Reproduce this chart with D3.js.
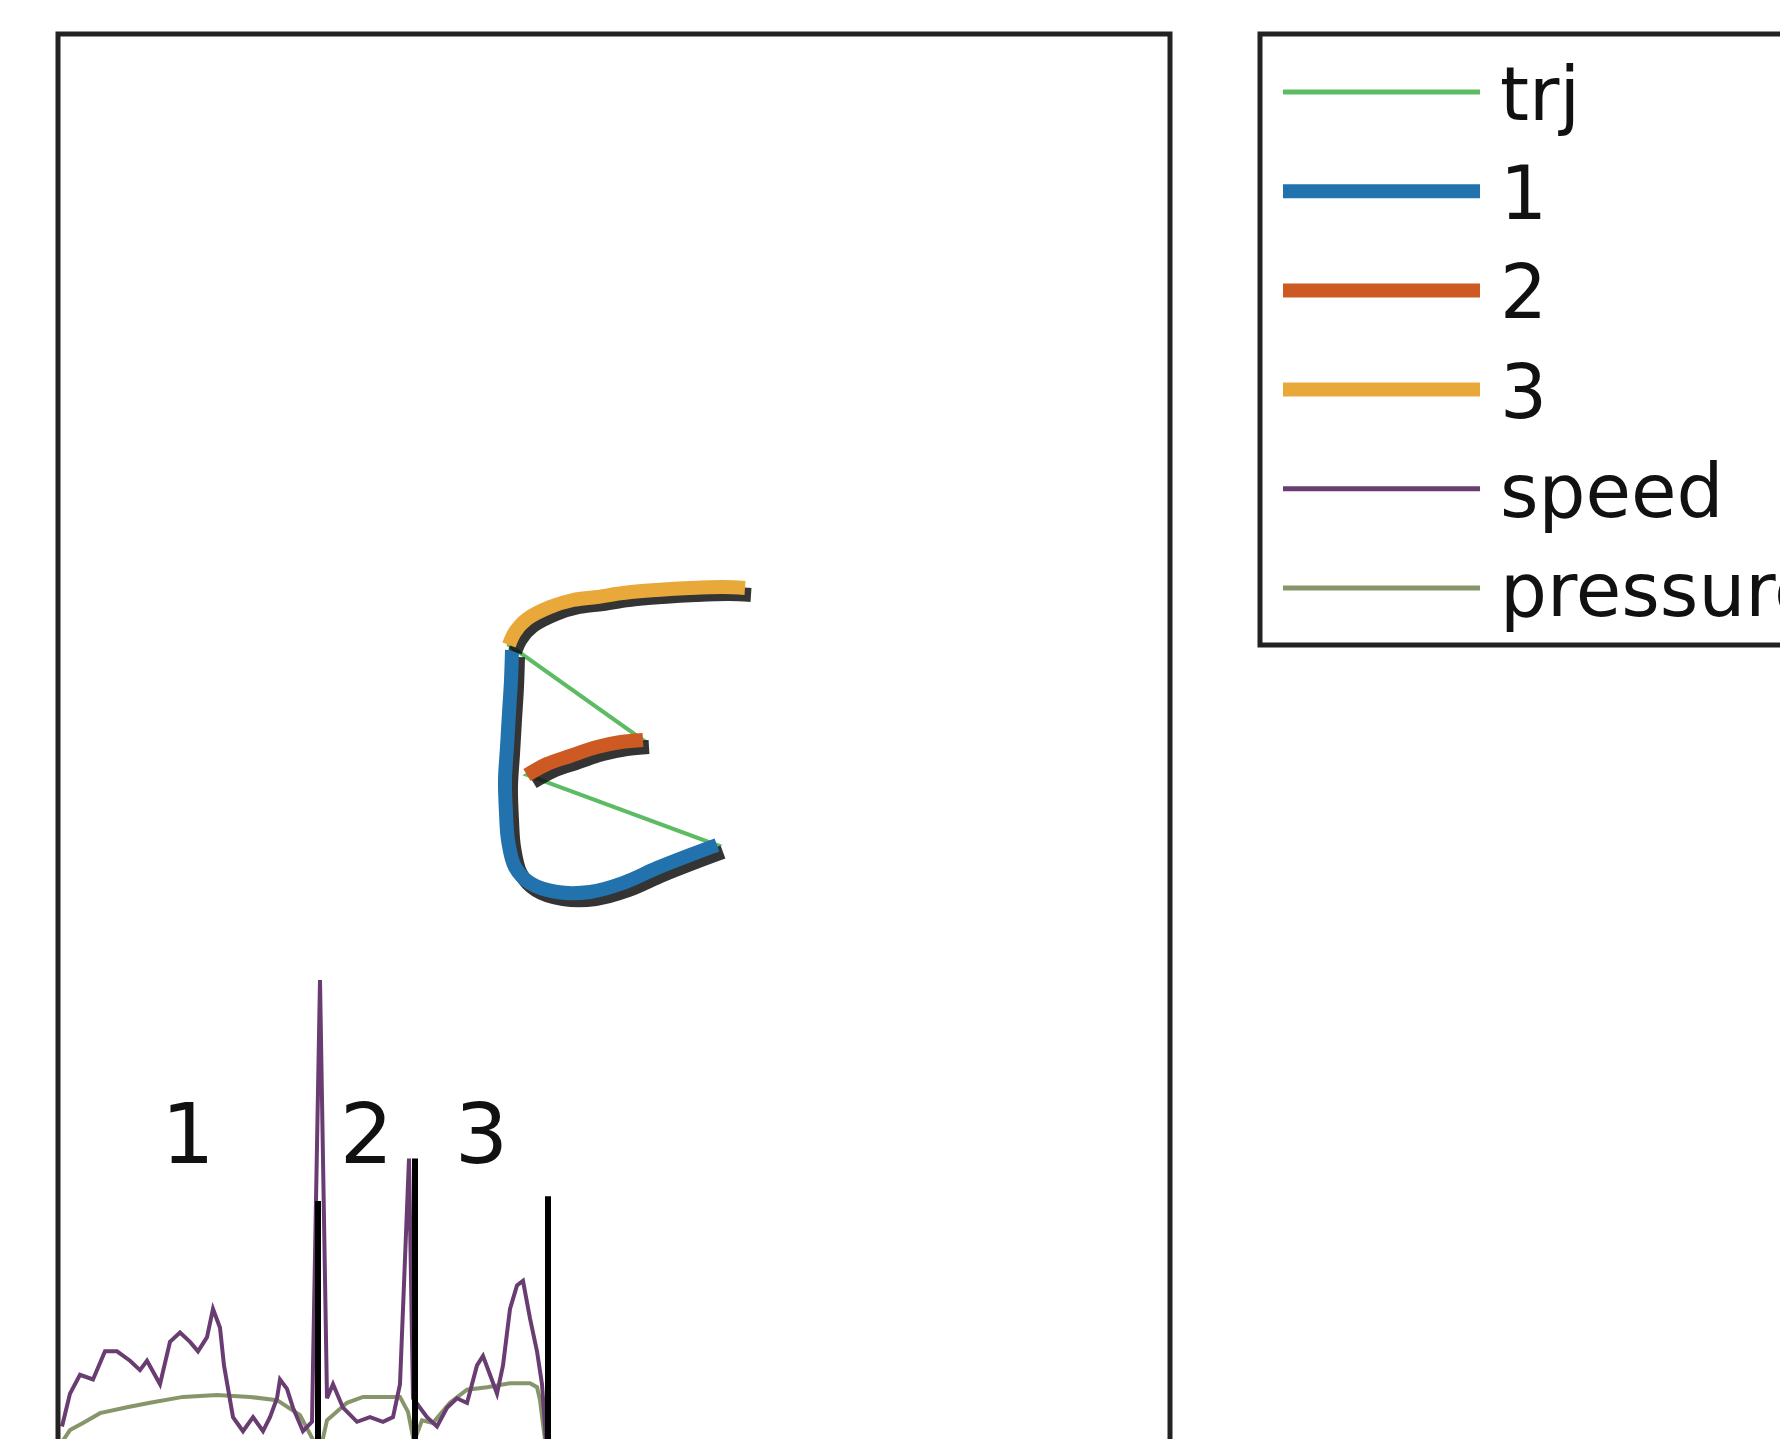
<!DOCTYPE html>
<html>
<head>
<meta charset="utf-8">
<script src="https://cdn.jsdelivr.net/npm/d3@7"></script>
<style>
  body { margin: 0; background: #fff; }
  svg { display: block; }
  text { font-family: "DejaVu Sans", sans-serif; fill: #111; }
</style>
</head>
<body>
<svg id="canvas" width="1780" height="1439"></svg>
<script>
// pen strokes of the letter, in tablet units (x right, y down)
var stroke1 = [[454,616],[453,646],[451,679],[449,713],[447,746],[448,779],[450,806],
  [457,833],[472,849],[499,858],[532,858],[565,849],[599,834],[632,821],[659,811]];
var stroke2 = [[469,741],[489,730],[512,722],[539,713],[563,708],[585,706]];
var stroke3 = [[451,611],[457,598],[469,585],[492,573],[515,566],[539,563],[565,559],
  [599,556],[632,554],[665,553],[687,554]];
var strokeNames = ['1', '2', '3'];
var strokeColors = ['#2272ad', '#cc5a22', '#e8a93a'];

// speed / pressure over time
var speedT = [4,12,22,35,47,59,72,82,89,102,112,122,132,140,149,155,162,166,175,185,195,205,
  212,219,222,229,235,245,254,262,269,275,285,299,312,325,335,342,351,355,369,379,389,399,
  409,419,425,432,439,445,452,459,465,472,479,484,488];
var speed = [.05,.12,.16,.15,.21,.21,.19,.17,.19,.14,.23,.25,.23,.21,.24,.30,.26,.18,.07,.04,
  .07,.04,.07,.11,.15,.13,.09,.04,.06,1.00,.11,.14,.09,.06,.07,.06,.07,.14,.62,.11,.07,.05,
  .09,.11,.10,.18,.20,.16,.12,.18,.30,.35,.36,.28,.21,.14,.02];
var pressT = [2,12,25,42,69,92,125,159,192,219,242,255,262,269,289,305,325,342,350,356,364,
  375,392,409,429,452,472,479,482,487];
var pressure = [0,.23,.34,.49,.58,.65,.74,.77,.74,.69,.46,.08,-.1,.38,.65,.74,.74,.74,.51,.05,
  .38,.34,.65,.85,.89,.95,.95,.89,.69,.08];
var strokeEnds = [260, 357, 490];
var strokeEndHeights = [0.53, 0.62, 0.54];

var legendLabels = ['trj', '1', '2', '3', 'speed', 'pressure'];

var trjColor = '#5dbb63', speedColor = '#6a3d72', pressColor = '#86966a';

var svg = d3.select('#canvas');

// main axes
var x = d3.scaleLinear().domain([0, 1112]).range([58, 1170]);
var y = d3.scaleLinear().domain([0, 1405]).range([34, 1439]);

var line = d3.line()
  .x(function (d) { return x(d[0]); })
  .y(function (d) { return y(d[1]); })
  .curve(d3.curveCatmullRom);

var trj = stroke1.concat(stroke2, stroke3);
var strokes = [stroke1, stroke2, stroke3];

svg.append('path')
  .attr('d', d3.line().x(function (d) { return x(d[0]); }).y(function (d) { return y(d[1]); })(trj))
  .attr('fill', 'none')
  .attr('stroke', trjColor)
  .attr('stroke-width', 4);

strokes.forEach(function (s, i) {
  // shadow
  svg.append('path')
    .attr('d', line(s))
    .attr('transform', 'translate(6,7)')
    .attr('fill', 'none')
    .attr('stroke', '#111')
    .attr('stroke-opacity', 0.85)
    .attr('stroke-width', 14)
    .attr('stroke-linecap', 'butt');
  svg.append('path')
    .attr('d', line(s))
    .attr('fill', 'none')
    .attr('stroke', strokeColors[i])
    .attr('stroke-width', 14)
    .attr('stroke-linecap', 'butt');
});

// inset: speed and pressure
var tx = d3.scaleLinear().domain([0, 490]).range([58, 548]);
var ys = d3.scaleLinear().domain([0, 1]).range([1450, 980]);
var yp = d3.scaleLinear().domain([0, 1]).range([1445, 1380]);

svg.append('path')
  .attr('d', d3.line().x(function (d, i) { return tx(pressT[i]); }).y(function (d) { return yp(d); })(pressure))
  .attr('fill', 'none')
  .attr('stroke', pressColor)
  .attr('stroke-width', 4);

svg.append('path')
  .attr('d', d3.line().x(function (d, i) { return tx(speedT[i]); }).y(function (d) { return ys(d); })(speed))
  .attr('fill', 'none')
  .attr('stroke', speedColor)
  .attr('stroke-width', 4);

svg.selectAll('.end')
  .data(strokeEnds)
  .enter().append('line')
  .attr('x1', function (d) { return tx(d); })
  .attr('x2', function (d) { return tx(d); })
  .attr('y1', ys(0))
  .attr('y2', function (d, i) { return ys(strokeEndHeights[i]); })
  .attr('stroke', '#000')
  .attr('stroke-width', 6);

svg.selectAll('.slabel')
  .data(strokeNames)
  .enter().append('text')
  .attr('x', function (d, i) { return tx(((i ? strokeEnds[i - 1] : 0) + strokeEnds[i]) / 2); })
  .attr('y', ys(0.61))
  .attr('text-anchor', 'middle')
  .style('font-size', '84px')
  .text(function (d) { return d; });

// frame
svg.append('rect')
  .attr('x', 58).attr('y', 34)
  .attr('width', 1112).attr('height', 1500)
  .attr('fill', 'none')
  .attr('stroke', '#222')
  .attr('stroke-width', 5);

// legend
var legend = svg.append('g');
legend.append('rect')
  .attr('x', 1260).attr('y', 34)
  .attr('width', 700).attr('height', 611)
  .attr('fill', 'none')
  .attr('stroke', '#222')
  .attr('stroke-width', 5);

var ly = d3.scalePoint().domain(legendLabels).range([92, 588]);
var legendColors = [trjColor].concat(strokeColors, [speedColor, pressColor]);
var legendWidths = [5, 14, 14, 14, 5, 5];

legendLabels.forEach(function (l, i) {
  legend.append('line')
    .attr('x1', 1283).attr('x2', 1480)
    .attr('y1', ly(l)).attr('y2', ly(l))
    .attr('stroke', legendColors[i])
    .attr('stroke-width', legendWidths[i]);
  legend.append('text')
    .attr('x', 1500)
    .attr('y', ly(l) + 28)
    .style('font-size', '74px')
    .text(l);
});
</script>
</body>
</html>
